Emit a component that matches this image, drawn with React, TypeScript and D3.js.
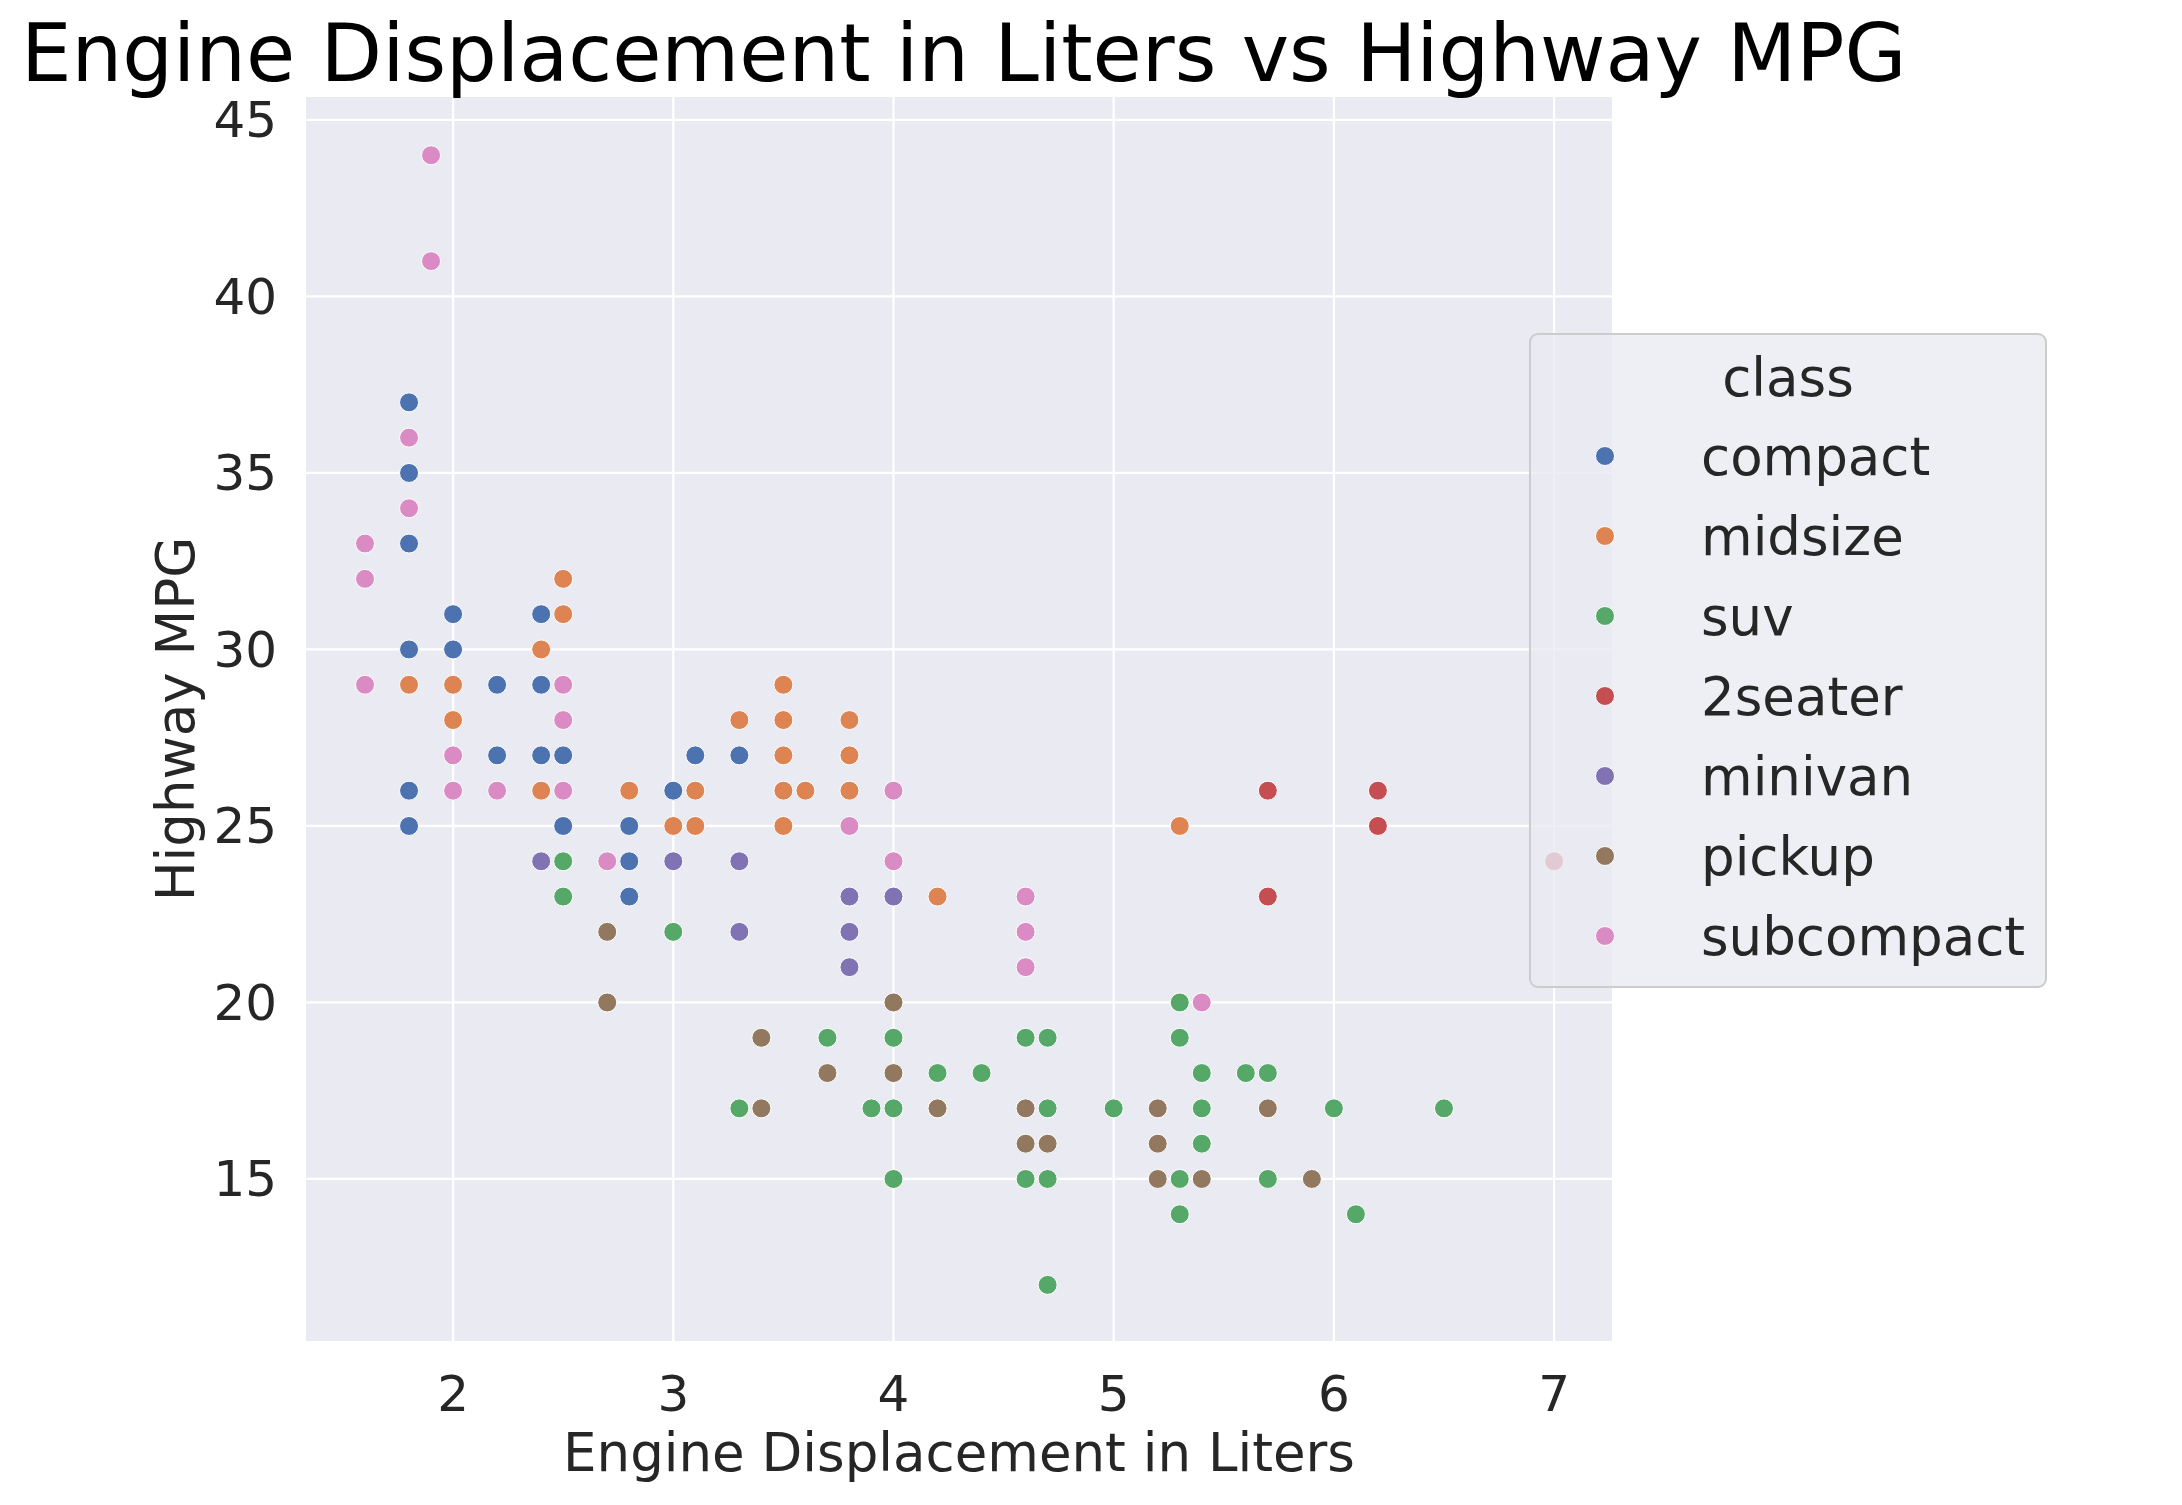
import * as d3 from "d3";

const classes = ["compact", "midsize", "suv", "2seater", "minivan", "pickup", "subcompact"];
const colors = ["#4c72b0", "#dd8452", "#55a868", "#c44e52", "#8172b3", "#937860", "#da8bc3"];

// [displ, hwy]
const compact = [[1.8,37],[1.8,35],[1.8,33],[1.8,30],[1.8,26],[1.8,25],[2,31],[2,30],[2.2,29],[2.2,27],[2.4,31],[2.4,29],[2.4,27],[2.5,27],[2.5,25],[2.8,25],[2.8,24],[2.8,23],[3,26],[3.1,27],[3.3,27]];
const midsize = [[1.8,29],[2,29],[2,28],[2.4,30],[2.4,26],[2.5,32],[2.5,31],[2.8,26],[3,25],[3.1,26],[3.1,25],[3.3,28],[3.5,29],[3.5,28],[3.5,27],[3.5,26],[3.5,25],[3.6,26],[3.8,28],[3.8,27],[3.8,26],[4.2,23],[5.3,25]];
const suv = [[2.5,24],[2.5,23],[3,22],[3.3,17],[3.7,19],[3.9,17],[4,19],[4,17],[4,15],[4.2,18],[4.4,18],[4.6,19],[4.6,15],[4.7,19],[4.7,17],[4.7,15],[4.7,12],[5,17],[5.3,20],[5.3,19],[5.3,15],[5.3,14],[5.4,18],[5.4,17],[5.4,16],[5.6,18],[5.7,18],[5.7,15],[6,17],[6.1,14],[6.5,17]];
const twoSeater = [[5.7,26],[5.7,23],[6.2,26],[6.2,25],[7,24]];
const minivan = [[2.4,24],[3,24],[3.3,24],[3.3,22],[3.8,23],[3.8,22],[3.8,21],[4,23]];
const pickup = [[2.7,22],[2.7,20],[3.4,19],[3.4,17],[3.7,18],[4,20],[4,18],[4.2,17],[4.6,17],[4.6,16],[4.7,16],[5.2,17],[5.2,16],[5.2,15],[5.4,15],[5.7,17],[5.9,15]];
const subcompact = [[1.6,33],[1.6,32],[1.6,29],[1.8,36],[1.8,34],[1.9,44],[1.9,41],[2,27],[2,26],[2.2,26],[2.5,29],[2.5,28],[2.5,26],[2.7,24],[3.8,25],[4,26],[4,24],[4.6,23],[4.6,22],[4.6,21],[5.4,20]];
const series = [compact, midsize, suv, twoSeater, minivan, pickup, subcompact];

const xTicks = [2, 3, 4, 5, 6, 7];
const yTicks = [15, 20, 25, 30, 35, 40, 45];

const W = 2182, H = 1505;
const L = 306, R = 1612, T = 97, B = 1341;
const FONT = "DejaVu Sans, sans-serif";

export default function App() {
  const x = d3.scaleLinear().domain([1.332, 7.263]).range([L, R]);
  const y = d3.scaleLinear().domain([10.41, 45.65]).range([B, T]);
  const lx = 1530, ly = 334, lw = 516, lh = 653;
  return (
    <svg width={W} height={H} style={{ position: "absolute", left: 0, top: 0, background: "#fff" }} fontFamily={FONT}>
      <rect x={L} y={T} width={R - L} height={B - T} fill="#eaeaf2" />
      {xTicks.map((t) => (
        <g key={"x" + t}>
          <line x1={x(t)} x2={x(t)} y1={T} y2={B} stroke="#fff" strokeWidth={2.2} />
          <text x={x(t)} y={1411} textAnchor="middle" fontSize={50} fill="#262626">{t}</text>
        </g>
      ))}
      {yTicks.map((t) => (
        <g key={"y" + t}>
          <line x1={L} x2={R} y1={y(t)} y2={y(t)} stroke="#fff" strokeWidth={2.2} />
          <text x={277} y={y(t)} dy="0.35em" textAnchor="end" fontSize={50} fill="#262626">{t}</text>
        </g>
      ))}
      {series.map((pts, i) =>
        pts.map((p, j) => (
          <circle key={i + "-" + j} cx={x(p[0])} cy={y(p[1])} r={9.5} fill={colors[i]} stroke="#fff" strokeWidth={1} />
        ))
      )}
      <text x={21} y={81} fontSize={80} fill="#000">Engine Displacement in Liters vs Highway MPG</text>
      <text x={959} y={1471} textAnchor="middle" fontSize={53} fill="#262626">Engine Displacement in Liters</text>
      <text transform={`translate(194,${(T + B) / 2}) rotate(-90)`} textAnchor="middle" fontSize={53} fill="#262626">Highway MPG</text>
      <rect x={lx} y={ly} width={lw} height={lh} rx={8} fill="#eaeaf2" fillOpacity={0.8} stroke="#cccccc" strokeWidth={2} />
      <text x={1788} y={396} textAnchor="middle" fontSize={53} fill="#262626">class</text>
      {classes.map((c, i) => (
        <g key={c}>
          <circle cx={1605} cy={456 + i * 80} r={9.5} fill={colors[i]} stroke="#fff" strokeWidth={1} />
          <text x={1701} y={456 + i * 80} dy="0.35em" fontSize={53} fill="#262626">{c}</text>
        </g>
      ))}
    </svg>
  );
}
